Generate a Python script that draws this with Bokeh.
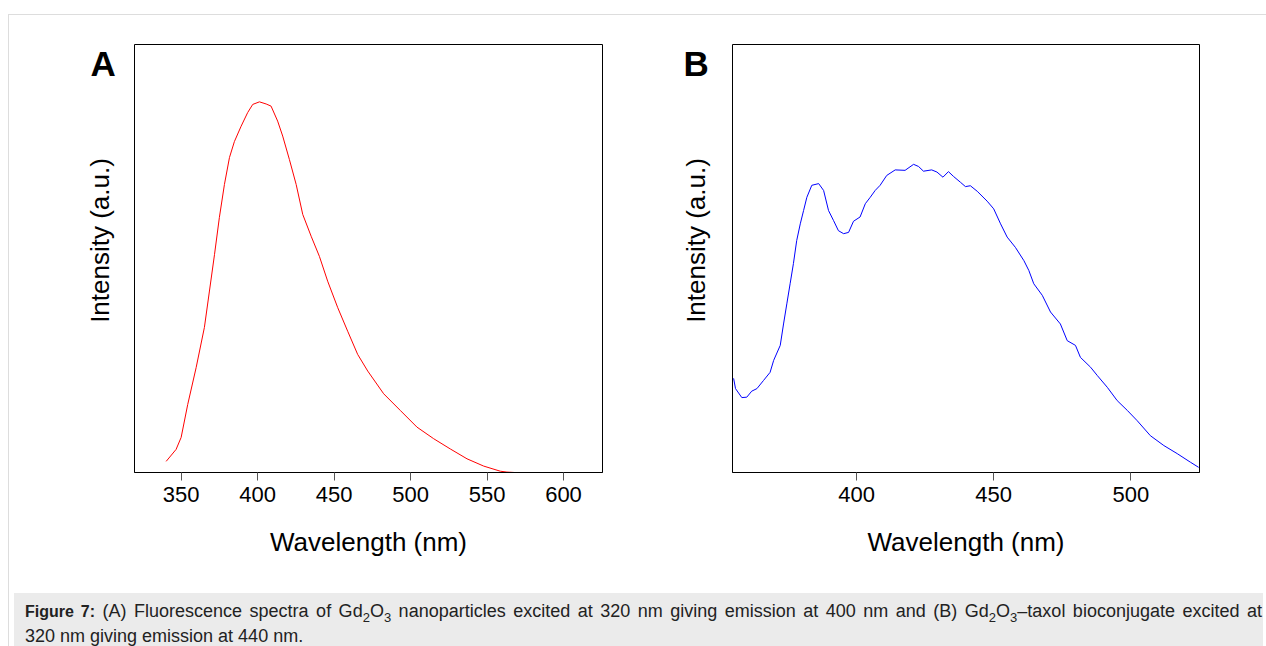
import math
from bokeh.plotting import figure
from bokeh.models import Range1d, FixedTicker, Div, GlobalInlineStyleSheet
from bokeh.core.properties import value
from bokeh.layouts import column, row
from bokeh.embed import file_html
from bokeh.resources import INLINE

# Panel A: Gd2O3 nanoparticles (ex 320 nm)
wl_a = [340.2, 346.7, 350.0, 354.3, 359.8, 365.2, 368.5, 371.8, 375.0, 378.3,
        381.6, 384.8, 389.2, 393.5, 396.8, 401.2, 405.6, 408.8, 413.1, 416.4,
        420.8, 425.2, 429.5, 435.0, 440.4, 445.8, 452.4, 458.9, 465.4, 472.0,
        482.4, 493.3, 504.2, 515.1, 526.0, 536.9, 547.8, 558.7, 563.0, 568.0]
int_a = [0.026, 0.054, 0.082, 0.159, 0.245, 0.339, 0.424, 0.509, 0.596, 0.673,
         0.736, 0.773, 0.809, 0.841, 0.860, 0.866, 0.861, 0.856, 0.821, 0.786,
         0.731, 0.673, 0.603, 0.552, 0.505, 0.447, 0.385, 0.330, 0.276, 0.237,
         0.184, 0.145, 0.106, 0.079, 0.055, 0.032, 0.015, 0.003, 0.001, 0.0]

# Panel B: Gd2O3-taxol bioconjugate (ex 320 nm)
wl_b = [355.2, 355.9, 358.2, 360.0, 361.8, 363.7, 366.1, 368.5, 369.8, 372.2,
        373.4, 374.6, 375.8, 377.0, 378.2, 379.5, 380.7, 381.9, 383.7, 386.2,
        388.0, 389.8, 391.6, 393.4, 395.3, 397.1, 398.9, 401.3, 403.2, 405.0,
        406.8, 408.6, 411.0, 414.1, 417.7, 420.8, 422.6, 424.4, 427.4, 429.3,
        431.5, 433.5, 435.3, 437.9, 439.7, 441.5, 444.0, 447.6, 450.0, 452.5,
        454.9, 457.9, 461.0, 462.8, 464.6, 467.7, 470.7, 474.3, 476.8, 479.8,
        481.6, 485.3, 487.7, 491.4, 495.0, 498.7, 502.3, 507.1, 512.0, 516.9,
        521.7, 524.7]
int_b = [0.220, 0.196, 0.175, 0.176, 0.190, 0.196, 0.215, 0.234, 0.262, 0.297,
         0.347, 0.394, 0.441, 0.488, 0.542, 0.581, 0.612, 0.643, 0.671, 0.675,
         0.659, 0.612, 0.589, 0.565, 0.558, 0.561, 0.587, 0.597, 0.628, 0.643,
         0.659, 0.671, 0.694, 0.707, 0.706, 0.720, 0.715, 0.704, 0.707, 0.702,
         0.690, 0.703, 0.692, 0.678, 0.668, 0.670, 0.657, 0.634, 0.616, 0.581,
         0.550, 0.526, 0.495, 0.472, 0.441, 0.414, 0.375, 0.347, 0.308, 0.297,
         0.269, 0.246, 0.227, 0.199, 0.168, 0.145, 0.121, 0.086, 0.063, 0.044,
         0.024, 0.012]

ticks_a = [350, 400, 450, 500, 550, 600]
ticks_b = [400, 450, 500]
x_label = "Wavelength (nm)"
y_label = "Intensity (a.u.)"

FONT = "Liberation Sans"
H = 573
TOP, BOTTOM = 29, 116


def make_strip(x0, width, letter, letter_x, label_x):
    # left-hand strip (page-pixel coordinates) holding the panel letter and the vertical axis title
    s = figure(width=width, height=H, x_range=Range1d(x0, x0 + width), y_range=Range1d(472, 44),
               output_backend="svg", toolbar_location=None,
               x_axis_location=None, y_axis_location=None,
               min_border_left=0, min_border_right=0,
               min_border_top=TOP, min_border_bottom=BOTTOM)
    s.grid.visible = False
    s.outline_line_color = None
    s.background_fill_color = "white"
    s.border_fill_color = "white"
    s.text(x=[letter_x], y=[62.5], text=[letter], text_font=value(FONT),
           text_font_size="35px", text_font_style="bold", text_color="black",
           text_baseline="middle", text_align="left")
    s.text(x=[label_x], y=[240], text=[y_label], text_font=value(FONT),
           text_font_size="26px", text_color="black", angle=math.pi / 2,
           text_baseline="middle", text_align="center")
    return s


def make_panel(width, mbr, xr, ticks, xs, ys, color):
    p = figure(width=width, height=H, x_range=Range1d(*xr), y_range=Range1d(0, 1),
               output_backend="svg", toolbar_location=None, y_axis_location=None,
               min_border_left=5, min_border_right=mbr,
               min_border_top=TOP, min_border_bottom=BOTTOM)
    p.line(xs, ys, line_color=color, line_width=1)
    p.grid.visible = False
    p.background_fill_color = "white"
    p.border_fill_color = "white"
    p.outline_line_color = "black"
    p.outline_line_width = 1
    p.outline_line_alpha = 1

    xa = p.xaxis[0]
    xa.ticker = FixedTicker(ticks=ticks)
    xa.minor_tick_line_color = None
    xa.major_tick_in = 0
    xa.major_tick_out = 8
    xa.major_tick_line_color = "#555555"
    xa.axis_line_color = "black"
    xa.major_label_text_font = FONT
    xa.major_label_text_font_size = "22px"
    xa.major_label_text_color = "black"
    xa.major_label_standoff = 6
    xa.axis_label = x_label
    xa.axis_label_text_font = FONT
    xa.axis_label_text_font_size = "26px"
    xa.axis_label_text_font_style = "normal"
    xa.axis_label_text_color = "black"
    xa.axis_label_standoff = 22
    return p


sa = make_strip(9, 120, "A", 90, 99)
pa = make_panel(511, 38, (319.5, 625.5), ticks_a, wl_a, int_a, "#ff0000")
sb = make_strip(640, 87, "B", 683, 695)
pb = make_panel(531, 59, (354.8, 525.0), ticks_b, wl_b, int_b, "#0000ff")

sub = '<sub style="font-size:13px;line-height:0">'
caption_html = (
    '<div style="background:#ebebeb;width:1249px;height:58px;box-sizing:border-box;'
    'padding:6px 0 0 11px;margin:0;font-family:\'Liberation Sans\',Arial,sans-serif;'
    'font-size:18px;line-height:24px;color:#222;">'
    '<div style="width:1237px;text-align:justify;text-align-last:justify;white-space:normal;">'
    '<b style="font-size:16px">Figure 7:</b> (A) Fluorescence spectra of Gd' + sub + '2</sub>O'
    + sub + '3</sub> nanoparticles excited at 320 nm giving emission at 400 nm and (B) Gd'
    + sub + '2</sub>O' + sub + '3</sub>–taxol bioconjugate excited at</div>'
    '<div style="white-space:nowrap;">320 nm giving emission at 440 nm.</div></div>'
)
caption = Div(text=caption_html, width=1249, height=58,
              styles={"background-color": "#ebebeb"},
              stylesheets=[GlobalInlineStyleSheet(css="body{overflow:hidden;}")])

layout = column(row(sa, pa, sb, pb), caption,
                styles={"border-top": "1px solid #dddddd",
                        "border-left": "1px solid #dddddd",
                        "margin-top": "14px", "margin-left": "8px"})

open("out.html", "w").write(file_html(layout, INLINE))
